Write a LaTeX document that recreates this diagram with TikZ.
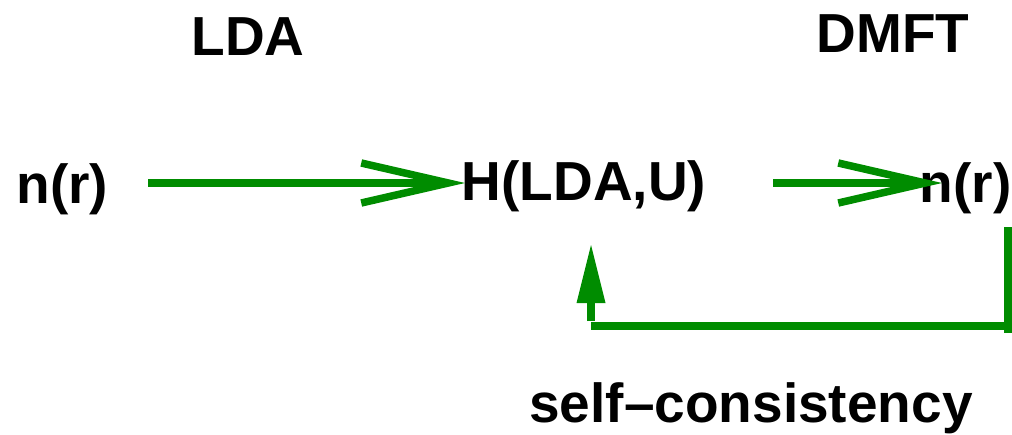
\documentclass[tikz,border=0pt]{standalone}
\usepackage{fontspec}
\setmainfont{Liberation Sans}
\usetikzlibrary{arrows.meta}
\definecolor{fig}{RGB}{0,140,0}
\begin{document}
\begin{tikzpicture}[x=1pt,y=-1pt,
  lbl/.style={font=\fontsize{55}{60}\selectfont\bfseries,inner sep=0pt,anchor=base},
  flow/.style={draw=fig,line width=7.5pt},
  openarr/.style={flow,-{Straight Barb[length=87pt,width=40pt,line width=7.5pt]}},
  uparr/.style={flow,-{Triangle[length=58pt,width=29pt,line width=0pt]}}]
\useasboundingbox (0,0) rectangle (1012,434);
\node[lbl] (lda) at (248,55) {LDA};
\node[lbl] (dmft) at (893,52) {DMFT};
\node[lbl] (n1) at (62.5,203) {n(r)};
\node[lbl] (h) at (584,200) {H(LDA,U)};
\node[lbl] (n2) at (965.5,202) {n(r)};
\node[lbl] (sc) at (751,422) {self–consistency};
\coordinate (a1s) at (148,183);
\coordinate (a1e) at (465,183);
\coordinate (a2s) at (773,183);
\coordinate (a2e) at (942,183);
\coordinate (vt) at (1008,227);
\coordinate (vb) at (1008,333);
\coordinate (hr) at (1008,326);
\coordinate (hl) at (591,326);
\coordinate (us) at (591,321);
\coordinate (ue) at (591,245);
\draw[openarr] (a1s) -- (a1e);
\draw[openarr] (a2s) -- (a2e);
\draw[flow] (vt) -- (vb);
\draw[flow] (hl) -- (hr);
\draw[uparr] (us) -- (ue);
\end{tikzpicture}
\end{document}
